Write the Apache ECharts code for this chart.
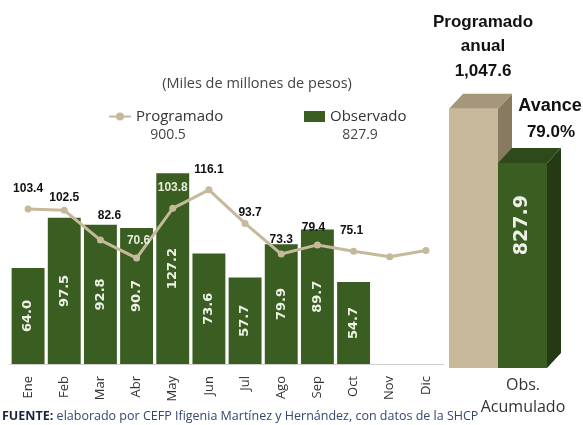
<!DOCTYPE html>
<html><head><meta charset="utf-8">
<script src="https://cdn.jsdelivr.net/npm/echarts@6/dist/echarts.min.js"></script>
<style>html,body{margin:0;padding:0;background:#fff}#c{width:583px;height:425px}</style>
</head><body><div id="c"></div>
<script>
// ---- data ----
const months = ['Ene','Feb','Mar','Abr','May','Jun','Jul','Ago','Sep','Oct','Nov','Dic'];
const observado = [64.0, 97.5, 92.8, 90.7, 127.2, 73.6, 57.7, 79.9, 89.7, 54.7, null, null];
const programado = [103.4, 102.5, 82.6, 70.6, 103.8, 116.1, 93.7, 73.3, 79.4, 75.1, 71.5, 75.6];
const programadoLabeled = [true, true, true, true, true, true, true, true, true, true, false, false];
const totalProgramado = '900.5';
const totalObservado = '827.9';
const annualCats = ['Programado anual', 'Obs. Acumulado'];
const annualValues = [1047.6, 827.9];
const avance = '79.0%';
const annualLabel = '1,047.6';

// ---- style helpers (not data) ----
const lightLabelIdx = [3, 4];
const labelNudge = [[0, 0], [0, 8], [9, -4], [2, 3], [0, 0], [0, 0], [5, 10], [0, 6], [-4, 3], [-2, 0], [0, 0], [0, 0]];
const FONT = '"Open Sans", sans-serif';
const NARROW = '"Liberation Sans Narrow", "Liberation Sans", sans-serif';

const chart = echarts.init(document.getElementById('c'), null, {renderer: 'canvas'});

const lineData = programado.map((v, i) => ({
  value: v,
  label: {
    show: programadoLabeled[i],
    offset: labelNudge[i],
    color: lightLabelIdx.includes(i) ? '#e6ecd9' : '#111'
  }
}));

const faces = [
  {front: '#c7b999', top: '#a6977a', side: '#877a60'},
  {front: '#3a5d22', top: '#2e4a1a', side: '#233a14'}
];

chart.setOption({
  animation: false,
  textStyle: {fontFamily: FONT},
  grid: [
    {left: 10, top: 154, width: 434, height: 210},
    {left: 449, top: 71, width: 98, height: 297}
  ],
  legend: [
    {data: ['Programado'], left: 103, top: 104, itemWidth: 22, itemHeight: 10,
     textStyle: {fontFamily: FONT, fontSize: 15, color: '#333'}},
    {data: ['Observado'], left: 299, top: 104, itemWidth: 21, itemHeight: 11, icon: 'rect',
     textStyle: {fontFamily: FONT, fontSize: 15, color: '#333'}}
  ],
  title: {
    text: '(Miles de millones de pesos)', left: 252, top: 71, textAlign: 'center',
    textStyle: {fontFamily: FONT, fontSize: 14.5, fontWeight: 'normal', color: '#444'}
  },
  xAxis: [
    {type: 'category', gridIndex: 0, data: months,
     axisLine: {lineStyle: {color: '#d0d0d0'}}, axisTick: {show: false},
     axisLabel: {rotate: 90, margin: 12, fontSize: 13, color: '#333', fontFamily: FONT}},
    {type: 'category', gridIndex: 1, data: annualCats, show: false}
  ],
  yAxis: [
    {type: 'value', gridIndex: 0, min: 0, max: 140, show: false, splitLine: {show: false}},
    {type: 'value', gridIndex: 1, min: 0, max: 1200, show: false, splitLine: {show: false}}
  ],
  series: [
    {name: 'Observado', type: 'bar', xAxisIndex: 0, yAxisIndex: 0, data: observado,
     barCategoryGap: '9%', itemStyle: {color: '#3a5d22'},
     label: {show: true, position: 'inside', rotate: 90, color: '#eef2e6',
             formatter: p => Number(p.value).toFixed(1),
             fontFamily: '"DejaVu Sans", sans-serif', fontWeight: 'bold', fontSize: 13}},
    {name: 'Programado', type: 'line', xAxisIndex: 0, yAxisIndex: 0, data: lineData, z: 5,
     symbol: 'circle', symbolSize: 7,
     lineStyle: {color: '#c5b99c', width: 3}, itemStyle: {color: '#c5b99c'},
     label: {position: 'top', distance: 11, fontFamily: NARROW, fontWeight: 'bold', fontSize: 12,
             formatter: p => Number(p.value).toFixed(1)}},
    {name: 'Anual', type: 'custom', xAxisIndex: 1, yAxisIndex: 1,
     data: annualValues.map((v, i) => [i, v]),
     renderItem: function (params, api) {
       const i = api.value(0), v = api.value(1);
       const topP = api.coord([i, v]);
       const baseP = api.coord([i, 0]);
       const w = api.size([1, 0])[0];
       const l = topP[0] - w / 2, r = topP[0] + w / 2;
       const t = topP[1], b = baseP[1];
       const dx = 14, dy = 15;
       const f = faces[i];
       const children = [
         {type: 'polygon', shape: {points: [[r, t], [r + dx, t - dy], [r + dx, b - dy], [r, b]]}, style: {fill: f.side}},
         {type: 'polygon', shape: {points: [[l, t], [r, t], [r + dx, t - dy], [l + dx, t - dy]]}, style: {fill: f.top}},
         {type: 'rect', shape: {x: l, y: t, width: w, height: b - t}, style: {fill: f.front}}
       ];
       if (i === 1) {
         children.push({type: 'text', x: (l + r) / 2, y: t + 62, rotation: Math.PI / 2,
           style: {text: Number(v).toFixed(1), fill: '#eef2e6', font: 'bold 19px "DejaVu Sans", sans-serif',
                   align: 'center', verticalAlign: 'middle'}});
       }
       return {type: 'group', children: children};
     }}
  ],
  graphic: [
    {type: 'text', x: 168, y: 135, style: {text: totalProgramado, font: '14px ' + FONT, fill: '#444', align: 'center', verticalAlign: 'middle'}},
    {type: 'text', x: 360, y: 135, style: {text: totalObservado, font: '14px ' + FONT, fill: '#444', align: 'center', verticalAlign: 'middle'}},
    {type: 'text', x: 483, y: 22, style: {text: 'Programado', font: 'bold 17px ' + NARROW, fill: '#111', align: 'center', verticalAlign: 'middle'}},
    {type: 'text', x: 483, y: 46, style: {text: 'anual', font: 'bold 17px ' + NARROW, fill: '#111', align: 'center', verticalAlign: 'middle'}},
    {type: 'text', x: 483, y: 71, style: {text: annualLabel, font: 'bold 17px ' + NARROW, fill: '#111', align: 'center', verticalAlign: 'middle'}},
    {type: 'text', x: 550, y: 106, style: {text: 'Avance', font: 'bold 18px ' + NARROW, fill: '#111', align: 'center', verticalAlign: 'middle'}},
    {type: 'text', x: 551, y: 132, style: {text: avance, font: 'bold 17px ' + NARROW, fill: '#111', align: 'center', verticalAlign: 'middle'}},
    {type: 'text', x: 523, y: 385, style: {text: 'Obs.', font: '16px ' + FONT, fill: '#333', align: 'center', verticalAlign: 'middle'}},
    {type: 'text', x: 523, y: 407, style: {text: 'Acumulado', font: '16px ' + FONT, fill: '#333', align: 'center', verticalAlign: 'middle'}},
    {type: 'text', x: 2, y: 416, style: {
      text: '{b|FUENTE:} {n|elaborado por CEFP Ifigenia Martínez y Hernández, con datos de la SHCP}',
      verticalAlign: 'middle',
      rich: {
        b: {fontFamily: FONT, fontSize: 12.5, fontWeight: 'bold', fill: '#1b2440'},
        n: {fontFamily: FONT, fontSize: 12.5, fill: '#34476e'}
      }}}
  ]
});
</script></body></html>
